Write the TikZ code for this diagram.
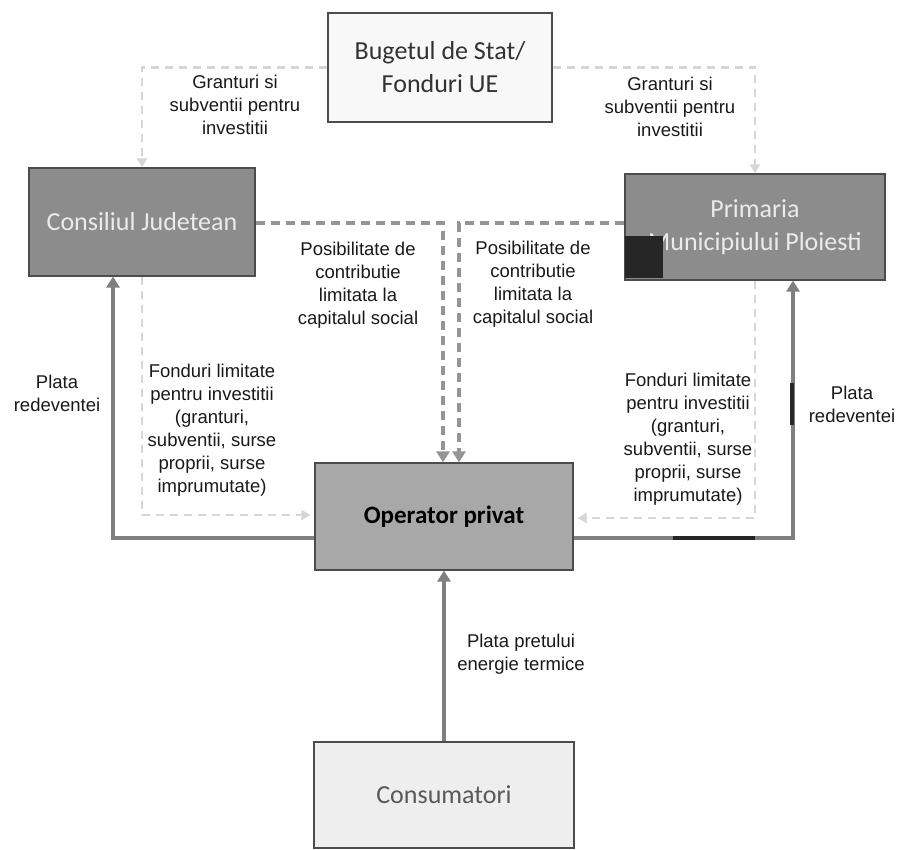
\documentclass[tikz,border=0pt]{standalone}
\usepackage{fontspec}
\setmainfont{Liberation Sans}
\newfontfamily\boxfont{Carlito}
\usetikzlibrary{arrows.meta}
\definecolor{darkbox}{HTML}{8C8C8C}
\definecolor{midbox}{HTML}{A8A8A8}
\definecolor{palebox}{HTML}{EEEEEE}
\definecolor{whitebox}{HTML}{F8F8F8}
\definecolor{solidline}{HTML}{7F7F7F}
\definecolor{capline}{HTML}{959595}
\definecolor{paleline}{HTML}{D6D6D6}
\tikzset{
	entity/.style={draw=black!70, line width=1.2pt, inner sep=0pt, font=\boxfont\fontsize{26}{33}\selectfont, align=center},
	lbl/.style={align=center, text=black!90, font=\fontsize{18.5}{23}\selectfont},
	payline/.style={draw=solidline, line width=3.5pt, -{Triangle[width=13pt,length=11pt]}},
	capdash/.style={draw=capline, line width=3.5pt, dash pattern=on 9pt off 6pt, -{Triangle[width=13pt,length=11pt]}},
	fonddash/.style={draw=paleline, line width=2.5pt, dash pattern=on 8pt off 6pt, -{Triangle[width=10pt,length=9pt]}}
}
\begin{document}
\begin{tikzpicture}[x=1pt,y=-1pt]
	\useasboundingbox (0,0) rectangle (901,849);
	%Boxes
	\node [entity, fill=whitebox, text=black!80, minimum width=224pt, minimum height=109pt] (buget) at (440,67.5) {Bugetul de Stat/\\Fonduri UE};
	\node [entity, fill=darkbox, text=white!92!black, minimum width=226pt, minimum height=108pt] (consiliu) at (142,222) {Consiliul Judetean};
	\node [entity, fill=darkbox, text=white!92!black, minimum width=260pt, minimum height=106pt] (primaria) at (755,227) {Primaria\\Municipiului Ploiesti};
	\node [entity, fill=midbox, text=black, minimum width=258pt, minimum height=107pt, font=\boxfont\bfseries\fontsize{25}{30}\selectfont] (operator) at (444,516.5) {Operator privat};
	\node [entity, fill=palebox, text=black!65, minimum width=260pt, minimum height=106pt] (consum) at (444,795) {Consumatori};
	%Black mark on the Primaria box
	\fill [black!85] (625,236) rectangle (663,278);
	%Corner points of the connectors
	\coordinate (solidL) at (113,538);
	\coordinate (solidR) at (793,538);
	\coordinate (capL) at (443,223);
	\coordinate (capR) at (459,223);
	\coordinate (fondL) at (142,515);
	\coordinate (fondR) at (755,518);
	%Granturi si subventii
	\draw [fonddash] (buget.west) -| (consiliu.north);
	\draw [fonddash] (buget.east) -| (primaria.north);
	%Fonduri limitate
	\draw [fonddash] (consiliu.south) -- (fondL) -- ([xshift=-4pt]operator.west |- fondL);
	\draw [fonddash] (primaria.south) -- (fondR) -- ([xshift=4pt]operator.east |- fondR);
	%Contributie la capitalul social
	\draw [capdash] (consiliu.east |- capL) -- (capL) -- (operator.north -| capL);
	\draw [capdash] (primaria.west |- capR) -- (capR) -- (operator.north -| capR);
	%Plata redeventei
	\draw [payline] (operator.west |- solidL) -- (solidL) -- (consiliu.south -| solidL);
	\draw [payline] (operator.east |- solidR) -- (solidR) -- (primaria.south -| solidR);
	%Dark marks on the right line
	\draw [black!85, line width=3.5pt] (673,538) -- (755,538);
	\draw [black!85, line width=3.5pt] (792,383) -- (792,425);
	%Plata pretului
	\draw [payline] (consum.north) -- (operator.south);
	%Labels
	\node [lbl] (grantL) at (235,105) {Granturi si\\subventii pentru\\investitii};
	\node [lbl] (grantR) at (670,107) {Granturi si\\subventii pentru\\investitii};
	\node [lbl] (capitalL) at (358,285) {Posibilitate de\\contributie\\limitata la\\capitalul social};
	\node [lbl] (capitalR) at (533,284) {Posibilitate de\\contributie\\limitata la\\capitalul social};
	\node [lbl] (fondLbl) at (212,430) {Fonduri limitate\\pentru investitii\\(granturi,\\subventii, surse\\proprii, surse\\imprumutate)};
	\node [lbl] (fondRbl) at (688,439) {Fonduri limitate\\pentru investitii\\(granturi,\\subventii, surse\\proprii, surse\\imprumutate)};
	\node [lbl] (redevL) at (57,393) {Plata\\redeventei};
	\node [lbl] (redevR) at (852,404) {Plata\\redeventei};
	\node [lbl] (pret) at (521,654) {Plata pretului\\energie termice};
\end{tikzpicture}
\end{document}
